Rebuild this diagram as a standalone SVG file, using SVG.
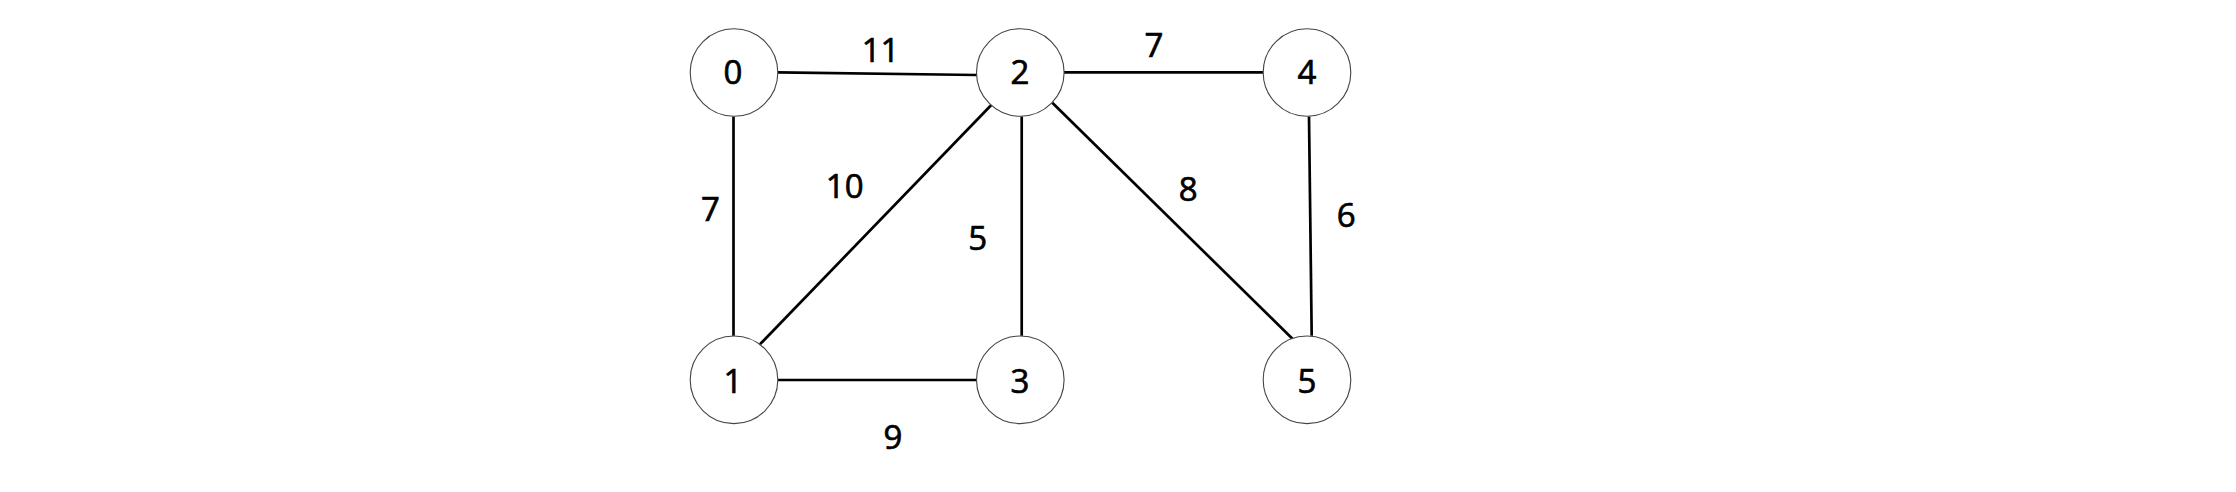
<svg xmlns="http://www.w3.org/2000/svg" width="2236" height="492" viewBox="0 0 2236 492">
<style>
.edge{stroke:#000;stroke-width:2.7;fill:none}
.node circle{fill:#fff;stroke:#444;stroke-width:1.1}
text{font-family:"Open Sans","Liberation Sans",sans-serif;font-size:33px;fill:#000;stroke:#000;stroke-width:0.7;text-anchor:middle}
</style>
<rect width="2236" height="492" fill="#fff"/>
<g id="connectors">
<line class="edge" x1="777.5" y1="72.3" x2="977" y2="75"/>
<line class="edge" x1="1064" y1="72.3" x2="1263.3" y2="72.3"/>
<line class="edge" x1="777.5" y1="380" x2="977" y2="380"/>
<line class="edge" x1="733.5" y1="116.5" x2="733.5" y2="335.8"/>
<line class="edge" x1="1021.7" y1="116.5" x2="1021.7" y2="335.8"/>
<line class="edge" x1="1309" y1="116.5" x2="1311.7" y2="335.8"/>
<line class="edge" x1="760" y1="344.3" x2="991.3" y2="105"/>
<line class="edge" x1="1052.3" y1="102.7" x2="1292.7" y2="339"/>
<text x="880.5" y="62">11</text>
<text x="1154" y="56.7">7</text>
<text x="710.5" y="221">7</text>
<text x="844.7" y="198.3">10</text>
<text x="977.7" y="250">5</text>
<text x="1188.3" y="201">8</text>
<text x="1346.3" y="227">6</text>
<text x="893" y="449">9</text>
</g>
<g id="node0" class="node"><circle cx="734" cy="72.5" r="43.8"/><text x="733" y="84">0</text></g>
<g id="node2" class="node"><circle cx="1020.3" cy="72.5" r="43.8"/><text x="1020" y="84">2</text></g>
<g id="node4" class="node"><circle cx="1307" cy="72.5" r="43.8"/><text x="1307" y="84">4</text></g>
<g id="node1" class="node"><circle cx="734" cy="379.8" r="43.8"/><text x="733" y="392.7">1</text></g>
<g id="node3" class="node"><circle cx="1020.3" cy="379.8" r="43.8"/><text x="1020" y="392.7">3</text></g>
<g id="node5" class="node"><circle cx="1307" cy="379.8" r="43.8"/><text x="1307" y="392.7">5</text></g>
</svg>
